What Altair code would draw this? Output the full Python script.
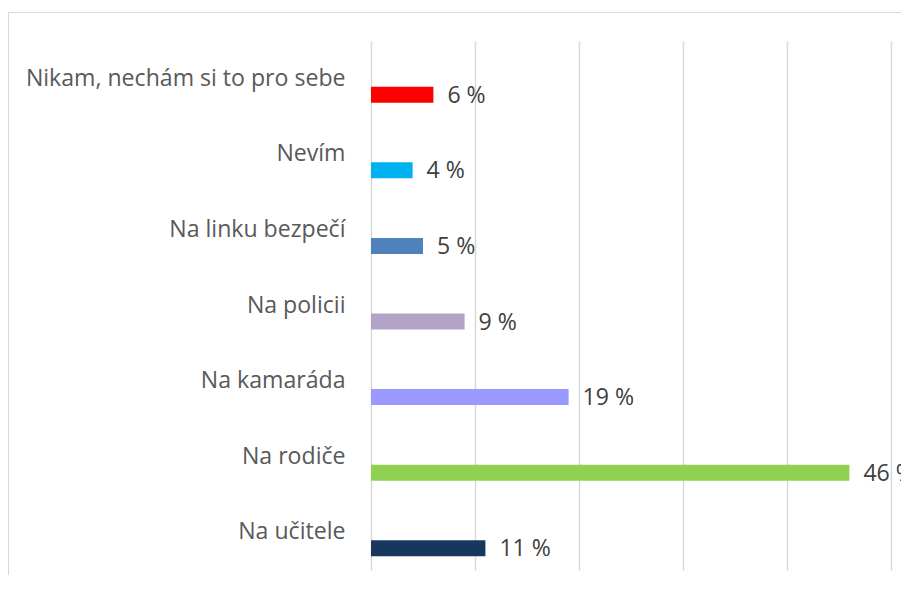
import altair as alt
import pandas as pd

categories = ["Nikam, nechám si to pro sebe", "Nevím", "Na linku bezpečí",
              "Na policii", "Na kamaráda", "Na rodiče", "Na učitele"]
values = [6, 4, 5, 9, 19, 46, 11]
colors = ["#FF0000", "#00B0F0", "#4F81BD", "#B3A2C7", "#9999FF", "#92D050", "#17375E"]
labels = [f"{v} %" for v in values]
grid_ticks = [0, 10, 20, 30, 40, 50]

df = pd.DataFrame({"cat": categories, "val": values, "label": labels, "color": colors})

FONT = "Open Sans"

y_enc = alt.Y(
    "cat:N", sort=categories,
    scale=alt.Scale(paddingInner=0, paddingOuter=0),
    axis=alt.Axis(title=None, ticks=False, domain=False, grid=False,
                  labelFont=FONT, labelFontSize=23.1, labelColor="#595959",
                  labelPadding=26, labelLimit=500),
)
x_enc = alt.X(
    "val:Q",
    scale=alt.Scale(domain=[0, 50], nice=False),
    axis=alt.Axis(title=None, labels=False, ticks=False, domain=False, grid=True,
                  gridColor="#d9d9d9", gridWidth=1.5, values=grid_ticks),
)

bars = alt.Chart(df).mark_bar(height=16, yOffset=16).encode(
    x=x_enc, y=y_enc, color=alt.Color("color:N", scale=None)
)

text = alt.Chart(df).mark_text(
    align="left", baseline="middle", dx=14, yOffset=17,
    font=FONT, fontSize=23.1, color="#404040"
).encode(
    x=alt.X("val:Q"), y=alt.Y("cat:N", sort=categories), text="label:N",
)

border = alt.Chart(pd.DataFrame({"a": [0]})).mark_rect(
    fill=None, stroke="#d9d9d9", strokeWidth=1
).encode(
    x=alt.value(-362.5), x2=alt.value(800), y=alt.value(-28.5), y2=alt.value(800)
)

chart = alt.layer(border, bars, text).properties(
    width=520, height=529,
    autosize=alt.AutoSizeParams(type="none"),
    padding={"left": 363, "top": 33, "right": 10, "bottom": 5},
    background="white",
).configure_view(stroke=None)

chart.save("out.html", embed_options={"renderer": "svg", "actions": False})
